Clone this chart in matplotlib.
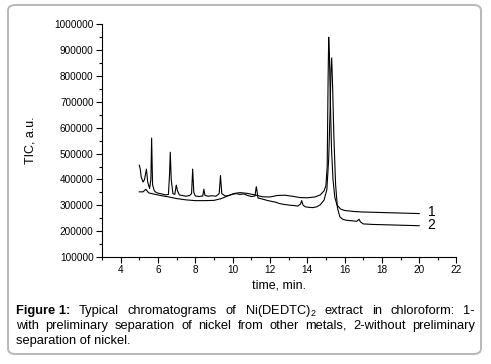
import matplotlib
matplotlib.use("Agg")
import matplotlib.pyplot as plt
from matplotlib.patches import FancyBboxPatch
from matplotlib.ticker import MultipleLocator

plt.rcParams['font.family'] = ['Liberation Sans', 'DejaVu Sans']
plt.rcParams['mathtext.fontset'] = 'custom'
plt.rcParams['mathtext.rm'] = 'Liberation Sans'
plt.rcParams['mathtext.default'] = 'regular'

# curve 1: with preliminary separation (smooth)
t1 = [5.0, 5.2, 5.35, 5.5, 5.8, 6.2, 6.6, 7.0, 7.5, 8.0, 8.5, 9.0, 9.4, 9.8, 10.1, 10.4,
      10.8, 11.2, 11.6, 12.0, 12.4, 12.8, 13.2, 13.6, 14.0, 14.4, 14.7, 14.9, 15.0, 15.07,
      15.12, 15.15, 15.19, 15.24, 15.3, 15.38, 15.48, 15.6, 15.8, 16.0, 16.5, 17.0, 17.5,
      18.0, 18.5, 19.0, 19.5, 20.0]
s1 = [352000, 352000, 362000, 348000, 343000, 337000, 332000, 326000, 321000, 318000,
      318000, 319000, 326000, 338000, 346000, 349000, 346000, 340000, 333000, 332000,
      338000, 339000, 335000, 330000, 329000, 332000, 340000, 356000, 375000, 450000,
      800000, 950000, 880000, 700000, 520000, 400000, 330000, 300000, 285000, 280000,
      276000, 274000, 273000, 272000, 271000, 270000, 269000, 268000]

# curve 2: without preliminary separation (noisy, many peaks)
t2 = [5.0, 5.05, 5.1, 5.2, 5.28, 5.38, 5.45, 5.55, 5.62, 5.66, 5.71, 5.8, 5.9, 6.0, 6.2,
      6.4, 6.56, 6.62, 6.66, 6.71, 6.8, 6.9, 6.98, 7.05, 7.15, 7.3, 7.5, 7.7, 7.8, 7.86,
      7.92, 8.0, 8.2, 8.4, 8.46, 8.52, 8.7, 8.9, 9.1, 9.28, 9.35, 9.42, 9.6, 9.8, 10.0,
      10.2, 10.4, 10.6, 10.8, 11.0, 11.2, 11.27, 11.31, 11.36, 11.5, 11.7, 11.9, 12.1,
      12.3, 12.5, 12.7, 12.9, 13.1, 13.3, 13.5, 13.64, 13.7, 13.78, 13.9, 14.1, 14.3,
      14.5, 14.7, 14.9, 15.05, 15.15, 15.22, 15.27, 15.31, 15.36, 15.43, 15.52, 15.62,
      15.75, 15.9, 16.1, 16.4, 16.65, 16.78, 16.85, 17.0, 17.5, 18.0, 18.5, 19.0, 19.5,
      20.0]
s2 = [455000, 440000, 410000, 390000, 400000, 440000, 390000, 365000, 400000, 560000,
      380000, 356000, 350000, 347000, 344000, 340000, 342000, 420000, 505000, 400000,
      345000, 342000, 378000, 355000, 340000, 338000, 335000, 338000, 345000, 440000,
      350000, 336000, 334000, 336000, 362000, 338000, 335000, 337000, 335000, 345000,
      415000, 345000, 336000, 338000, 343000, 345000, 342000, 344000, 338000, 334000,
      336000, 372000, 355000, 328000, 326000, 322000, 318000, 315000, 312000, 307000,
      304000, 302000, 300000, 299000, 297000, 305000, 318000, 300000, 294000, 292000,
      291000, 294000, 302000, 320000, 360000, 480000, 650000, 820000, 870000, 760000,
      560000, 380000, 290000, 255000, 246000, 242000, 240000, 238000, 246000, 236000,
      228000, 226000, 225000, 224000, 223000, 222000, 221000]

xmin, xmax = 3, 22
ymin, ymax = 100000, 1000000

W, H = 491, 364
fig = plt.figure(figsize=(W / 100, H / 100), dpi=100)

# rounded frame around the figure
frame = FancyBboxPatch((8 / W, 1 - 354 / H), 473 / W, 349 / H,
                       boxstyle="round,pad=0,rounding_size=0.015",
                       transform=fig.transFigure, fill=False,
                       edgecolor='#b8b8b8', linewidth=1.4)
fig.patches.append(frame)

ax = fig.add_axes([102 / W, 1 - 257 / H, (456.5 - 102) / W, (257 - 24.3) / H])
ax.plot(t1, s1, color='black', linewidth=0.8)
ax.plot(t2, s2, color='black', linewidth=0.8)

ax.set_xlim(xmin, xmax)
ax.set_ylim(ymin, ymax)
ax.set_xticks(range(4, 23, 2))
ax.xaxis.set_minor_locator(MultipleLocator(1))
ax.yaxis.set_major_locator(MultipleLocator(100000))
ax.yaxis.set_minor_locator(MultipleLocator(50000))
ax.ticklabel_format(axis='y', style='plain', useOffset=False)
ax.spines['top'].set_visible(False)
ax.spines['right'].set_visible(False)
ax.tick_params(which='major', direction='out', length=4, width=0.8, labelsize=7.2, pad=2)
ax.tick_params(which='minor', direction='out', length=2.5, width=0.8)
ax.set_xlabel('time, min.', fontsize=9, labelpad=3)
ax.set_ylabel('TIC, a.u.', fontsize=9)
ax.yaxis.set_label_coords((36 - 102) / 354.5, 0.5)

ax.text(20.45, 275000, '1', fontsize=10, va='center', ha='left')
ax.text(20.45, 222000, '2', fontsize=10, va='center', ha='left')

# caption, justified word by word on the first two lines
left, right = 16, 475
lines = [
    ["Figure 1:", "Typical", "chromatograms", "of", "Ni(DEDTC)$_2$", "extract", "in",
     "chloroform:", "1-"],
    ["with", "preliminary", "separation", "of", "nickel", "from", "other", "metals,",
     "2-without", "preliminary"],
    ["separation of nickel."],
]
baselines = [314, 329, 344]
renderer = fig.canvas.get_renderer()
for i, (words, yb) in enumerate(zip(lines, baselines)):
    texts = []
    for w in words:
        bold = w.startswith("Figure")
        texts.append(fig.text(0, 1 - yb / H, w, fontsize=9.3,
                              fontweight='bold' if bold else 'normal',
                              va='baseline', ha='left'))
    widths = [t.get_window_extent(renderer=renderer).width for t in texts]
    if i < 2 and len(texts) > 1:
        gap = (right - left - sum(widths)) / (len(texts) - 1)
    else:
        gap = 0
    x = left
    for t, w in zip(texts, widths):
        t.set_x(x / W)
        x += w + gap

fig.savefig('out.png', dpi=100)
